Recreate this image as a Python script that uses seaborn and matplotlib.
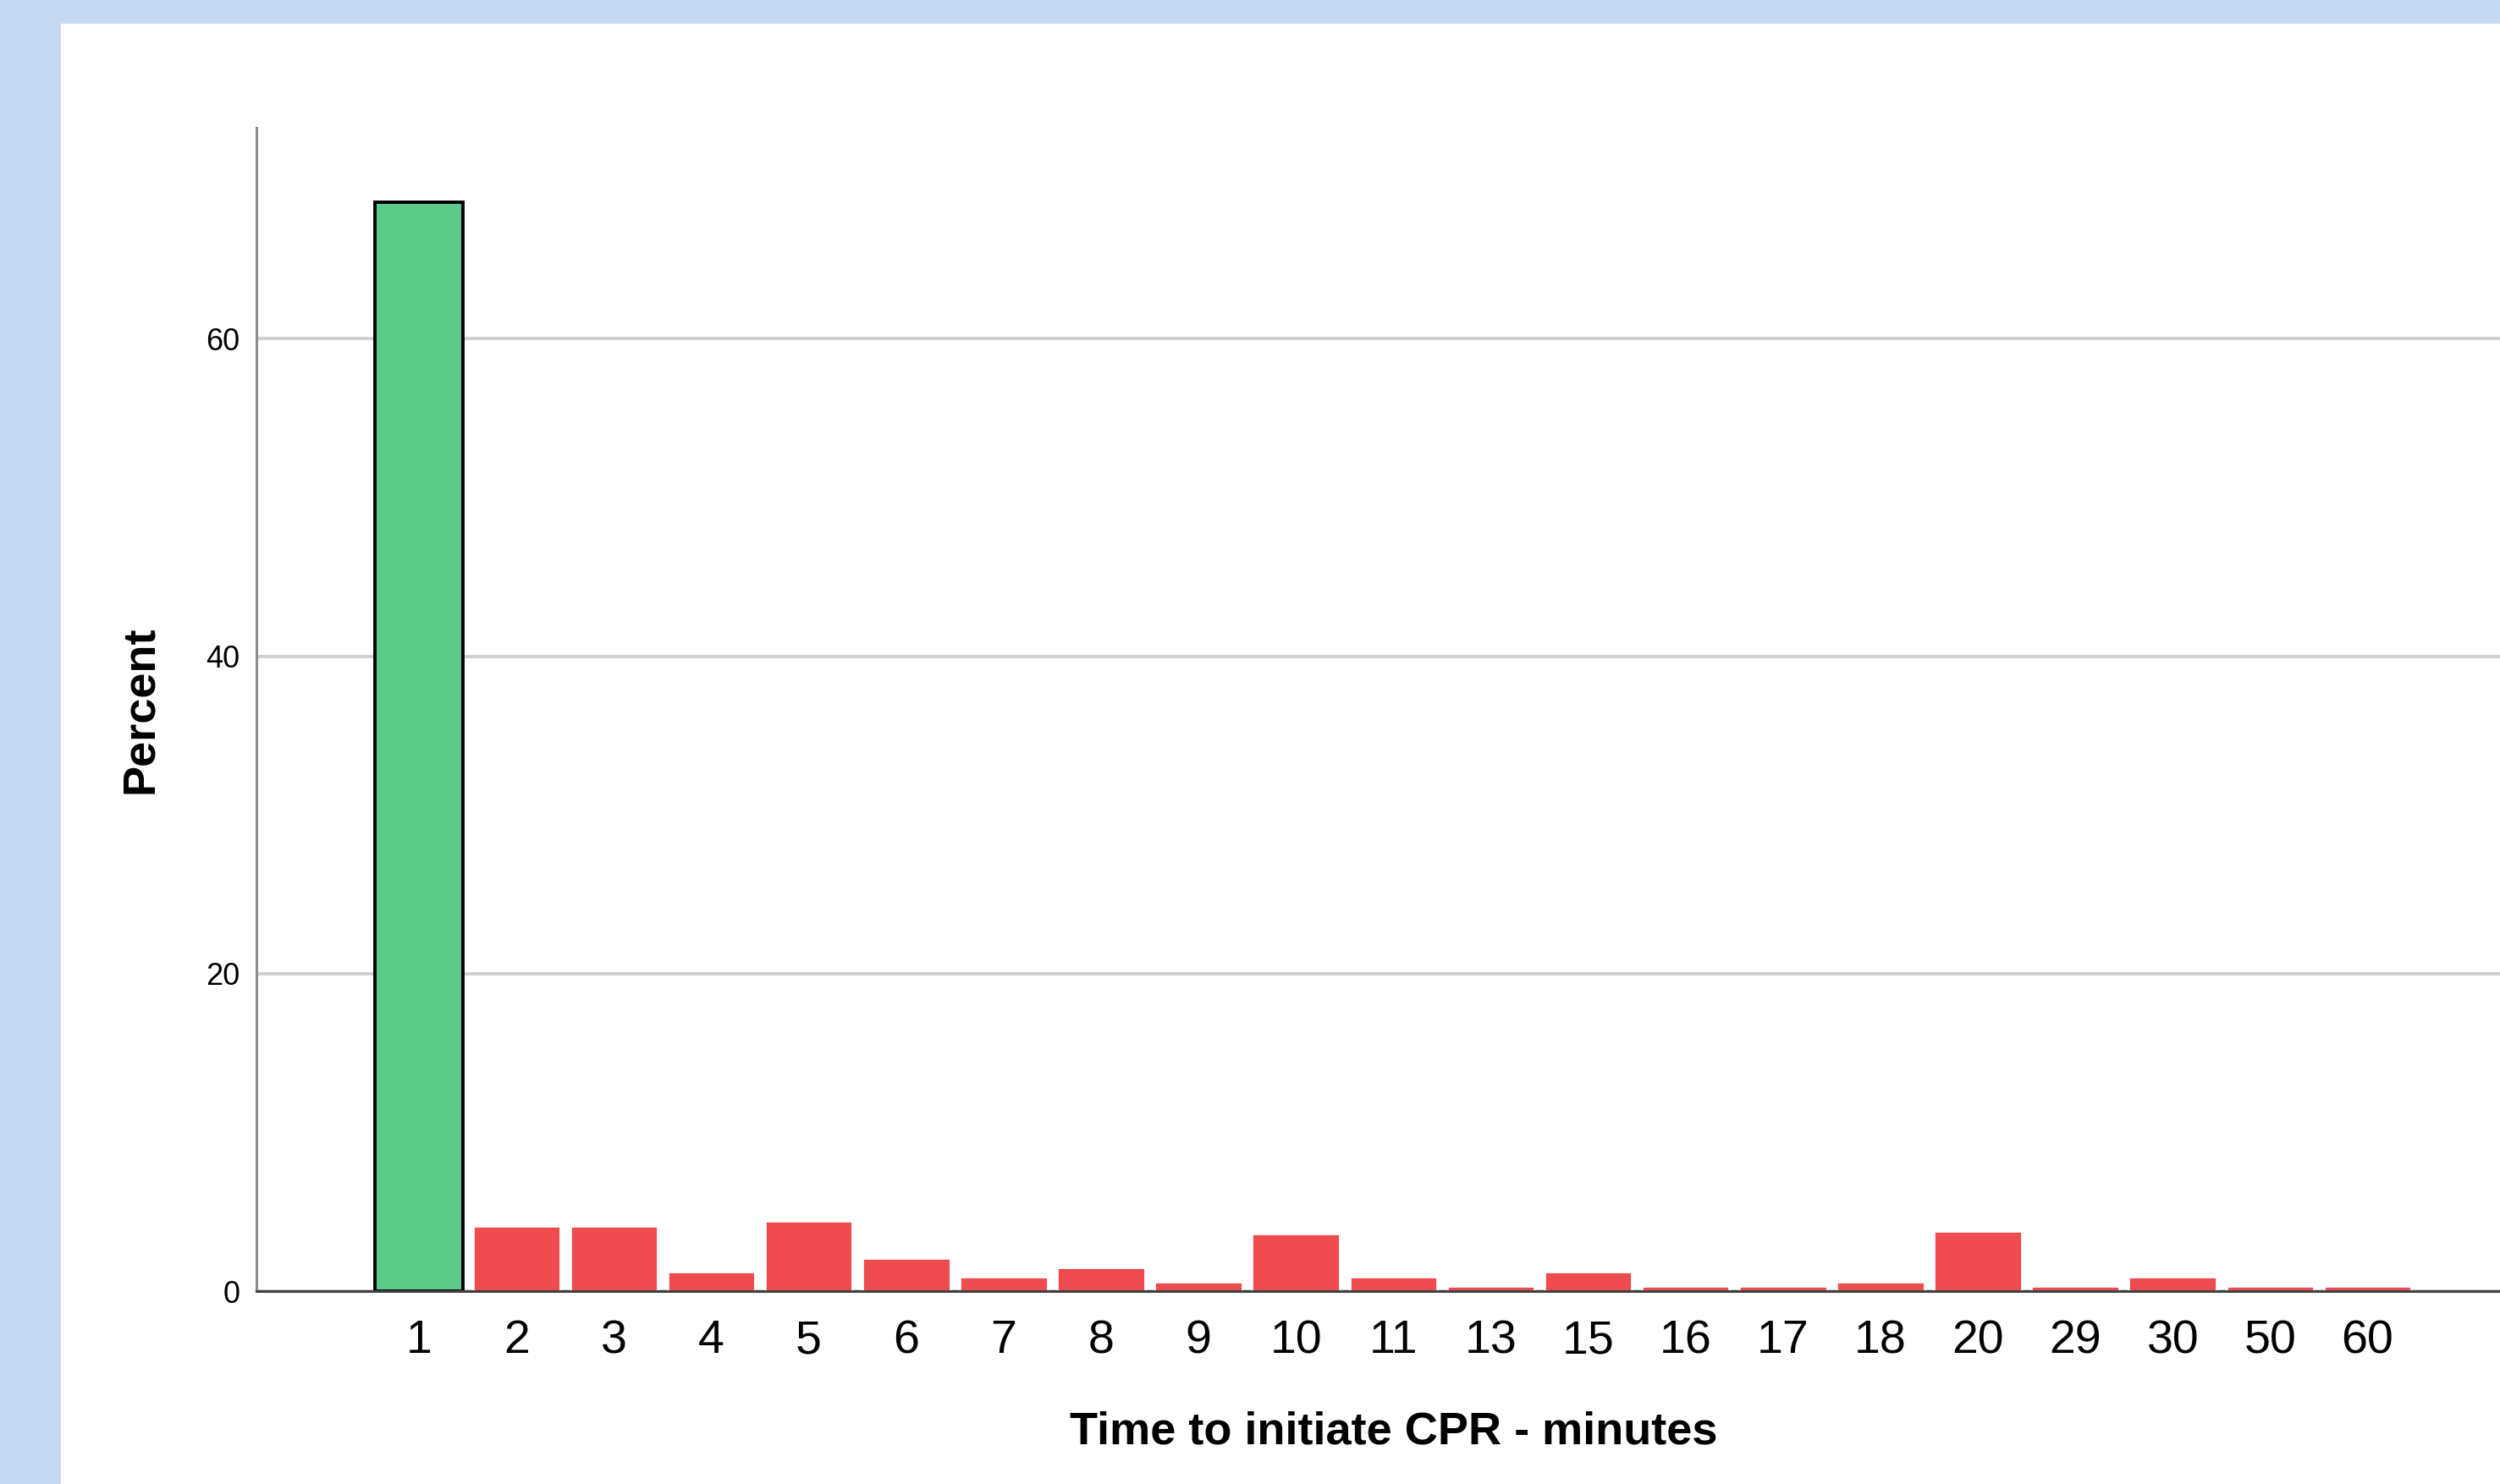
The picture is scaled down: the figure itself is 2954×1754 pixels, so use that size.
import matplotlib
matplotlib.use("Agg")
import matplotlib.pyplot as plt
import seaborn as sns
from matplotlib.patches import Rectangle

# Werte (Prozent)
minutes = ['1', '2', '3', '4', '5', '6', '7', '8', '9', '10', '11', '13', '15',
           '16', '17', '18', '20', '29', '30', '50', '60']
percent = [68.6, 4.1, 4.1, 1.2, 4.4, 2.1, 0.9, 1.5, 0.6, 3.6, 0.9, 0.3, 1.2,
           0.3, 0.3, 0.6, 3.8, 0.3, 0.9, 0.3, 0.3]
bar_colors = ['#5DC98A'] + ['#EE4C4E'] * (len(minutes) - 1)

sns.set_style('white')
plt.rcParams['font.family'] = ['Liberation Sans', 'DejaVu Sans']
plt.rcParams['text.color'] = 'black'
plt.rcParams['xtick.color'] = 'black'
plt.rcParams['ytick.color'] = 'black'
plt.rcParams['axes.labelcolor'] = 'black'

fig = plt.figure(figsize=(14.77, 8.77), dpi=200, facecolor='#C6D9F0')
# weisses Panel hinter der Achse
fig.patches.append(Rectangle((72 / 2954, 0), 1, 1 - 28 / 1754, transform=fig.transFigure,
                             facecolor='white', edgecolor='none', zorder=-1))
ax = fig.add_axes([303 / 2954, 1 - 1526 / 1754, 1 - 303 / 2954, (1526 - 151) / 1754])
ax.set_facecolor('none')

sns.barplot(x=minutes, y=percent, hue=minutes, palette=bar_colors, order=minutes,
            legend=False, width=0.9, saturation=1, ax=ax)
ax.patches[0].set_edgecolor('black')
ax.patches[0].set_linewidth(1.4)

ax.set_xlim(-1.67, 21.36)
ax.set_ylim(0, 73.3)
ax.set_yticks([0, 20, 40, 60])
ax.set_axisbelow(True)
ax.yaxis.grid(True, color='#D0D0D0', linewidth=1.4)
ax.xaxis.grid(False)

for s in ['top', 'right']:
    ax.spines[s].set_visible(False)
ax.spines['left'].set_color('#8C8C8C')
ax.spines['left'].set_linewidth(1.1)
ax.spines['bottom'].set_color('#404040')
ax.spines['bottom'].set_linewidth(1.1)

ax.tick_params(axis='x', length=0, labelsize=20, pad=12)
ax.tick_params(axis='y', length=0, labelsize=13, pad=7)

ax.set_xlabel('Time to initiate CPR - minutes', fontsize=19.5, fontweight='bold')
ax.set_ylabel('Percent', fontsize=19.5, fontweight='bold')
ax.xaxis.set_label_coords(0.507, -0.121)
ax.xaxis.label.set_va('center')
ax.yaxis.set_label_coords(-0.0517, 0.5)
ax.yaxis.label.set_va('center')

fig.savefig('out.png', dpi=200, facecolor=fig.get_facecolor())
